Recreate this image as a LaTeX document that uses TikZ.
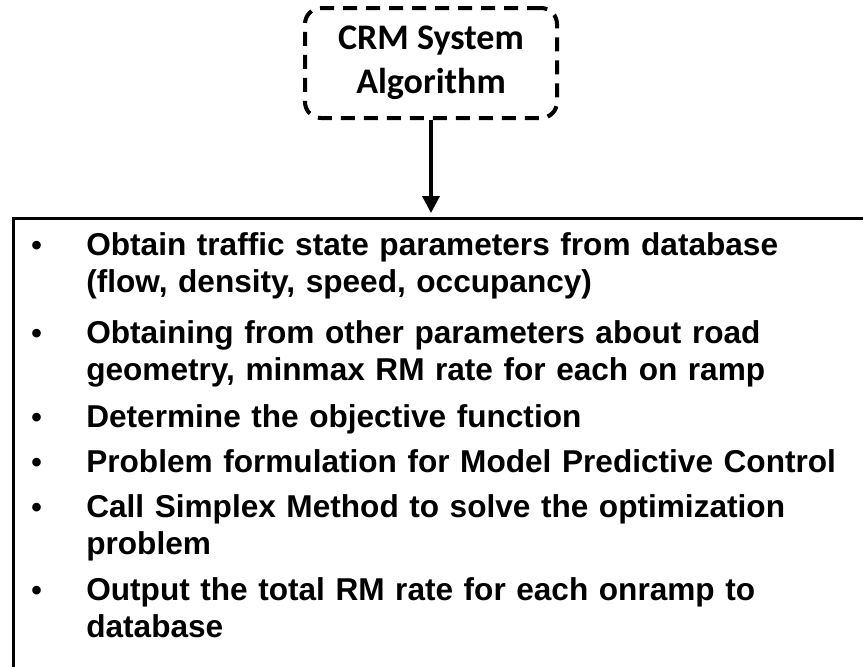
\documentclass[tikz,border=0pt]{standalone}
\usepackage{fontspec}
\setmainfont{Liberation Sans}
\newfontfamily\crmfont{Carlito}
\usetikzlibrary{positioning, arrows.meta}

\newcommand{\stepline}[1]{\par\hangindent=27.5pt\hangafter=1\noindent\strut\makebox[27.5pt][l]{{\fontsize{15}{15}\selectfont\textbullet}}#1\strut}

\begin{document}
\begin{tikzpicture}[
    x=0.5pt, y=-0.5pt,
    algobox/.style={rectangle, draw, dashed, line width=2pt, dash pattern=on 7pt off 4.5pt,
        rounded corners=8pt, minimum width=126pt, minimum height=55pt, align=center,
        font=\crmfont\bfseries\fontsize{18}{22}\selectfont},
    listbox/.style={rectangle, draw, line width=1.3pt, anchor=north west, text width=440pt,
        inner xsep=9pt, inner ysep=0pt,
        font=\bfseries\fontsize{15.8}{18.5}\selectfont},
    flow/.style={-{Triangle[width=8.5pt,length=8.5pt]}, line width=1.8pt}
]
\useasboundingbox (0,0) rectangle (863,666);

% Algorithm node
\node[algobox] (crm) at (431,63) {CRM System\\Algorithm};

% List of steps
\node[listbox] (steps) at (12,217) {\raggedright
\stepline{Obtain traffic state parameters from database\hfil\break(flow, density, speed, occupancy)}\vspace{7pt}
\stepline{Obtaining from other parameters about road\hfil\break geometry, minmax RM rate for each on ramp}\vspace{5pt}
\stepline{Determine the objective function}\vspace{4pt}
\stepline{Problem formulation for Model Predictive Control}\vspace{4pt}
\stepline{Call Simplex Method to solve the optimization\hfil\break problem}\vspace{4.5pt}
\stepline{Output the total RM rate for each onramp to\hfil\break database}\par\vspace*{30pt}\null};

% Connector
\draw[flow, shorten >=2pt] (crm.south) -- (crm.south |- steps.north);

\end{tikzpicture}
\end{document}
